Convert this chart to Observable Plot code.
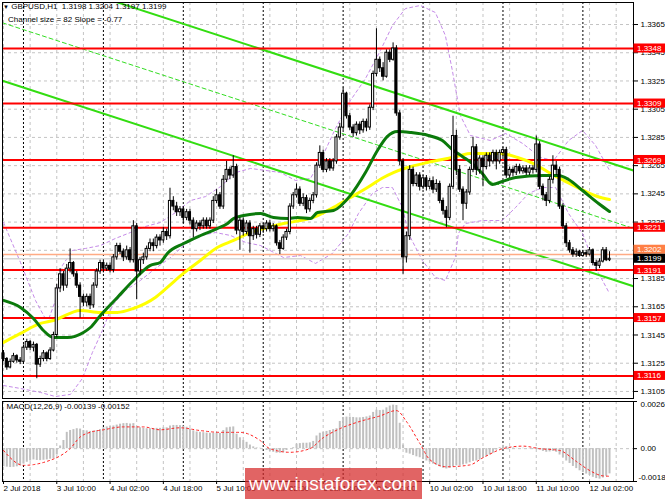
<!DOCTYPE html>
<html>
<head>
<meta charset="utf-8">
<script src="https://cdn.jsdelivr.net/npm/d3@7"></script>
<script src="https://cdn.jsdelivr.net/npm/@observablehq/plot@0.6"></script>
<style>
  body { margin: 0; background: #fff; }
  #chart { position: relative; width: 665px; height: 499px; overflow: hidden; font-family: "Liberation Sans", Arial, sans-serif; }
  #main, #macd { position: absolute; left: 0; }
  #main { top: 0; }
  #macd { top: 400px; }
  .hdr { position: absolute; font-size: 8px; line-height: 10px; color: #000; white-space: pre; }
  #wm { position: absolute; left: 245px; top: 468px; width: 177px; height: 31px; background: rgba(214,40,40,0.72);
        color: #fff; font-size: 19px; line-height: 31px; text-align: center; }
</style>
</head>
<body>
<div id="chart">
  <div id="main"></div>
  <div id="macd"></div>
  <div class="hdr" style="left:3px;top:2px"><span style="font-size:6px">▼</span> GBPUSD,H1  1.3198 1.3204 1.3197 1.3199</div>
  <div class="hdr" style="left:8px;top:15px">Channel size = 82 Slope = -0.77</div>
  <div id="wm">www.instaforex.com</div>
</div>
<script>
// prices are kept in pips above 1.3000 (128 -> 1.3128)
const BASE = 1.3

// H1 candles, 2 Jul 18:00 .. 12 Jul 08:00 (bar 0 .. 182)
const firstOpen = 132
const closes = [
  128,122,126,130,127,126,136,140,136,138,
  124,128,132,128,134,145,178,188,180,192,
  196,188,180,172,168,172,166,180,190,196,
  192,194,191,200,208,204,200,205,198,222,
  190,198,200,206,210,208,214,212,218,215,
  240,236,232,234,228,232,226,220,224,222,
  226,222,226,240,244,236,255,262,258,264,
  219,226,218,224,215,220,216,222,220,224,
  220,222,210,206,214,218,236,244,248,238,
  242,234,240,244,265,274,262,268,263,268,
  285,292,316,300,292,288,294,290,296,292,
  306,330,340,334,328,345,340,348,302,268,
  200,215,262,252,258,250,256,250,254,248,
  252,240,233,228,250,286,262,248,238,246,
  262,278,262,270,264,272,268,274,268,274,
  276,258,262,260,264,261,263,260,263,262,
  280,250,244,240,255,265,262,236,222,210,
  205,202,204,201,203,202,205,196,194,197,
  205,198,199
]
const highs = [
  134,129,128,132,131,129,138,142,141,140,
  139,130,134,133,136,147,181,192,190,195,
  206,197,190,182,174,174,174,182,192,198,
  198,196,196,202,210,210,206,208,207,226,
  224,200,203,208,213,213,216,216,221,220,
  249,243,239,236,236,234,234,228,226,226,
  228,228,228,243,248,246,258,268,264,272,
  266,228,228,226,226,222,222,224,224,226,
  226,224,223,212,216,220,238,246,252,250,
  245,244,242,246,267,279,276,270,270,270,
  287,295,320,317,302,294,296,296,298,298,
  308,332,362,342,338,347,347,352,350,304,
  270,218,265,264,260,260,258,258,256,257,
  255,254,242,236,252,300,290,265,250,248,
  264,285,280,272,272,274,274,276,276,276,
  278,278,264,264,266,266,265,265,265,265,
  286,282,252,246,257,272,268,264,238,224,
  212,207,206,205,205,205,207,206,198,199,
  207,207,204
]
const lows = [
  126,120,121,125,125,124,125,134,134,133,
  114,122,126,126,127,133,143,175,176,178,
  189,186,178,157,165,165,163,164,178,188,
  189,190,189,189,198,202,197,198,196,196,
  170,187,195,198,204,204,206,208,210,212,
  213,233,229,229,224,226,223,214,218,219,
  220,220,220,224,238,234,234,253,255,256,
  216,205,215,216,203,212,213,214,217,218,
  218,218,208,202,205,212,216,234,242,236,
  236,231,232,238,242,263,260,260,261,261,
  266,283,290,298,290,285,286,287,288,289,
  290,304,328,331,325,327,338,339,300,265,
  188,196,212,250,250,247,248,247,248,245,
  246,238,230,221,226,248,258,246,226,234,
  244,260,258,259,250,262,264,266,262,266,
  270,256,256,257,258,259,259,258,258,259,
  260,248,240,236,238,252,258,234,220,207,
  203,200,200,200,200,200,201,194,190,192,
  196,197,197
]

// moving averages [bar, pips]
const greenMa = [[0,169.5],[5.1,164.5],[9,156.7],[12,148.2],[15,143.2],[19.2,143.2],[24,146.8],[26.1,150.3],
  [29.1,158.8],[34.2,171.6],[39,183.6],[44.1,194.3],[47.1,196.4],[49.2,202.8],[54.1,209.8],[59.2,215.5],
  [64.3,220.5],[67.3,224],[69.1,227.6],[72.1,229.7],[77.2,231.1],[81.1,228.3],[85.3,227.6],[88.3,228.3],
  [92.2,227.6],[94.3,231.8],[99.1,233.2],[104.2,243.9],[108.7,260.1],[112.3,275.7],[115.3,285.7],
  [118.3,289.2],[122.2,288.5],[127.6,286.4],[131.8,282.8],[134.8,276.4],[137.8,271.5],[140.8,266.5],
  [143.8,259.4],[146.8,251.6],[149.8,253.8],[153.8,256.6],[161.9,258],[166.7,258],[169.7,255.2],
  [173.9,247.4],[178.7,238.2],[182,232.5]]
const yellowMa = [[0,139.7],[5.1,146.1],[11.1,153.2],[15,155.3],[23.1,162.4],[29.1,161],[34.2,161],
  [39,163.8],[45.6,171.6],[49.2,178.7],[54,188.6],[59.1,197.8],[64.2,207],[69.1,212],[74.2,217.6],
  [79.3,221.2],[84.1,224],[89.2,226.1],[92.2,227.6],[99.1,235.4],[104.2,242.4],[109.3,249.5],
  [114.1,256.6],[117.1,260.1],[121.3,263.7],[127.3,267.2],[133.3,270.1],[137.2,272.2],[140.2,273.6],
  [149.2,273.6],[154.4,270.8],[159.2,266.5],[164.3,259.4],[169.4,253.1],[174.2,247.4],[178.4,243.1],[182,241]]

// bands [bar, pips]
const bandUpper = [[0,224.7],[5.1,196.4],[9.6,169.5],[13.2,153.9],[15.6,169.5],[17.7,194.3],[20.7,204.9],
  [24.6,206.3],[29.1,208.4],[33.6,213.4],[38.1,217.6],[42.6,221.9],[47.1,224.7],[51.7,231.8],[56.2,240.3],
  [60.7,243.1],[65.2,250.2],[69.7,260.1],[74.2,263],[78.7,261.6],[83.2,260.1],[87.7,254.5],[92.2,255.9],
  [95.2,268.6],[99.7,291.3],[104.2,311.2],[108.7,326.7],[113.2,346.6],[116.8,364.3],[120.7,376.3],
  [125.2,378.5],[129.7,373.5],[132.7,357.2],[134.8,332.4],[137.2,300.5],[140.2,286.4],[146.2,282.8],
  [150.8,287.8],[155.9,280.7],[161.3,270.8],[165.2,268.6],[169.7,282.8],[173.9,289.9],[177.8,279.3],[182,261.6]]
const bandLower = [[0,109.2],[5.1,107.1],[11.1,104.3],[15.6,101.4],[20.1,102.9],[23.7,114.2],[26.7,132.6],
  [29.7,148.2],[32.7,165.9],[36.6,176.6],[41.1,183.6],[45.6,192.1],[50.2,199.9],[54.7,209.8],[59.2,215.5],
  [63.7,217.6],[68.2,215.5],[72.7,210.6],[77.2,208.4],[84.1,199.9],[89.2,201.3],[93.7,195.7],[98.8,202.8],
  [103.6,216.9],[106.6,231.1],[110.8,245.3],[113.8,249.5],[116.8,249.5],[119.8,235.4],[121.6,216.9],
  [125.8,197.8],[129.7,185.8],[132.7,183.6],[135.7,199.9],[136.6,216.9],[138.7,224],[143.8,226.1],
  [149.8,226.1],[153.8,235.4],[157.7,245.3],[161.9,249.5],[165.8,249.5],[169.7,231.1],[173.9,216.9],
  [177.8,192.8],[182,174.4]]

// regression channel (size 82, slope -0.77)
const channelBars = [-0.3, 189.2]
const channelUpper = [1.34072, 1.32615]
const channelMiddle = [1.33662, 1.32205]
const channelLower = [1.33252, 1.31795]

const levels = [1.3348, 1.3309, 1.3269, 1.3221, 1.3191, 1.3157, 1.3116]
const bid = 1.3199
const ask = 1.3202
const priceTicks = [1.3365, 1.3345, 1.3325, 1.3305, 1.3285, 1.3265, 1.3245, 1.3225, 1.3205, 1.3185, 1.3165, 1.3145, 1.3125, 1.3105]

// MACD(12,26,9): histogram per bar and signal line, in 0.00001
const macdHist = [
  -100,-102,-104,-103,-100,-95,-85,-75,-68,-62,
  -65,-66,-64,-62,-58,-55,-35,15,45,90,
  100,105,110,108,100,98,95,97,100,105,
  115,120,122,125,130,135,138,139,136,138,
  120,115,112,110,110,110,112,112,115,115,
  125,128,128,127,124,118,108,98,92,90,
  88,86,85,85,86,84,100,115,118,120,
  80,60,45,35,20,10,4,2,0,-10,
  -15,-20,-25,-25,-22,-10,0,5,25,28,
  30,30,32,40,70,85,90,95,100,105,
  110,150,172,174,174,172,170,170,172,175,
  180,200,212,210,212,225,235,240,238,140,
  20,-25,-30,-38,-45,-50,-60,-68,-75,-85,
  -92,-100,-108,-112,-108,-100,-95,-95,-90,-85,
  -78,-70,-68,-62,-50,-42,-35,-25,-8,5,
  18,12,6,3,2,0,2,0,-2,-3,
  5,-8,-15,-20,-18,-15,-20,-35,-50,-68,
  -82,-98,-110,-122,-132,-140,-148,-158,-165,-168,
  -162,-152,-139
]
const macdSignal = [[0,-10],[6,-92],[9,-88],[14,-64],[17,-40],[20,0],[23,64],[26,90],[30,104],[36,120],
  [42,120],[47,104],[53,115],[59,100],[65,90],[71,90],[77,46],[80,0],[86,-20],[92,0],[96,60],[101,110],
  [107,150],[113,180],[118,210],[121,150],[125,30],[128,-60],[133,-100],[140,-90],[144,-50],[150,0],
  [156,14],[161,0],[167,-10],[172,-70],[176,-120],[180,-150],[182,-152]]
const macdTicks = [0.0026, 0, -0.00181]
const macdTickText = ["0.0026", "0.00", "-0.00181"]

const timeLabels = ["2 Jul 2018", "3 Jul 10:00", "4 Jul 02:00", "4 Jul 18:00", "5 Jul 10:00", "6 Jul 02:00",
  "6 Jul 18:00", "9 Jul 10:00", "10 Jul 02:00", "10 Jul 18:00", "11 Jul 10:00", "12 Jul 02:00"]
const labelBars = [0, 16, 32, 48, 64, 80, 96, 112, 128, 144, 160, 176]
const gridBars = [0, 8, 16, 24, 32, 40, 48, 56, 64, 72, 80, 88, 96, 104, 112, 120, 128, 136, 144, 152, 160, 168, 176, 184]
const daySeps = [6, 30, 54, 78, 102, 126, 150, 174]

const px = p => BASE + p / 10000
const bars = closes.map((c, i) => ({
  i,
  o: px(i ? closes[i - 1] : firstOpen),
  h: px(highs[i]),
  l: px(lows[i]),
  c: px(c)
}))
const pairs = (xs, ys) => xs.map((x, k) => ({x, y: ys[k]}))
const font = {fontFamily: "Liberation Sans, Arial, sans-serif", fontSize: "8px", background: "white", overflow: "visible"}
const grey = {stroke: "#c4c4c4", strokeDasharray: "3,3"}
const sep = {stroke: "#000", strokeDasharray: "2,2"}
const band = {x: d => d[0], y: d => px(d[1]), stroke: "#c58be8", strokeWidth: 1, strokeDasharray: "3,3", clip: true}

const main = Plot.plot({
  width: 665, height: 400,
  marginLeft: 2, marginRight: 32, marginTop: 2, marginBottom: 2,
  x: {type: "linear", domain: [-0.3, 189.2], axis: null},
  y: {domain: [1.3100, 1.33806]},
  style: font,
  marks: [
    Plot.ruleY(priceTicks, grey),
    Plot.ruleX(gridBars, grey),
    Plot.ruleX(daySeps, sep),
    Plot.line(bandUpper, band),
    Plot.line(bandLower, band),
    Plot.line(pairs(channelBars, channelMiddle), {x: "x", y: "y", stroke: "#33dd22", strokeWidth: 1, strokeDasharray: "4,3", clip: true}),
    Plot.line(pairs(channelBars, channelUpper), {x: "x", y: "y", stroke: "#33dd11", strokeWidth: 2, clip: true}),
    Plot.line(pairs(channelBars, channelLower), {x: "x", y: "y", stroke: "#33dd11", strokeWidth: 2, clip: true}),
    Plot.ruleY([ask], {stroke: "#ffab85", strokeWidth: 1.5}),
    Plot.ruleY([bid], {stroke: "#d6d6d6", strokeWidth: 1.5}),
    Plot.ruleY(levels, {stroke: "#ff0000", strokeWidth: 2}),
    Plot.line(yellowMa, {x: d => d[0], y: d => px(d[1]), stroke: "#ffff00", strokeWidth: 3, curve: "monotone-x"}),
    Plot.line(greenMa, {x: d => d[0], y: d => px(d[1]), stroke: "#0b7a0b", strokeWidth: 3, curve: "monotone-x"}),
    Plot.ruleX(bars, {x: "i", y1: "l", y2: "h", stroke: "#000"}),
    Plot.rect(bars, {
      x1: d => d.i - 0.32, x2: d => d.i + 0.32, y1: "o", y2: "c",
      fill: d => d.c >= d.o ? "#fff" : "#000", stroke: "#000", strokeWidth: 1
    }),
    Plot.frame({stroke: "#000"}),
    Plot.axisY(priceTicks, {anchor: "right", tickSize: 4, tickPadding: 3, tickFormat: d => d.toFixed(4), label: null}),
    Plot.rect(levels, {x1: 189.35, x2: 199, y1: d => d - 0.00032, y2: d => d + 0.00032, fill: "#ff0000"}),
    Plot.text(levels, {x: 189.35, y: d => d, dx: 3, text: d => d.toFixed(4), fill: "#fff", textAnchor: "start"}),
    Plot.rect([ask], {x1: 189.35, x2: 199, y1: d => d + 0.00002, y2: d => d + 0.00066, fill: "#ff7f45"}),
    Plot.text([ask], {x: 189.35, y: d => d + 0.00034, dx: 3, text: d => d.toFixed(4), fill: "#fff", textAnchor: "start"}),
    Plot.rect([bid], {x1: 189.35, x2: 199, y1: d => d - 0.00032, y2: d => d + 0.00032, fill: "#000"}),
    Plot.text([bid], {x: 189.35, y: d => d, dx: 3, text: d => d.toFixed(4), fill: "#fff", textAnchor: "start"})
  ]
})
document.getElementById("main").append(main)

const labelMap = new Map(labelBars.map((b, k) => [b, timeLabels[k]]))
const macdLabels = macdTicks.map((v, k) => ({v, t: macdTickText[k]}))
const hist = macdHist.map((v, i) => ({i, v: v / 100000}))

const macd = Plot.plot({
  width: 665, height: 99,
  marginLeft: 2, marginRight: 32, marginTop: 1, marginBottom: 18,
  x: {type: "linear", domain: [-0.3, 189.2]},
  y: {domain: [-0.00181, 0.0026], axis: null},
  style: font,
  marks: [
    Plot.ruleX(gridBars, grey),
    Plot.ruleX(daySeps, sep),
    Plot.ruleY([0.0026, 0], grey),
    Plot.ruleX(hist, {x: "i", y1: 0, y2: "v", stroke: "#c0c0c0", strokeWidth: 2}),
    Plot.line(macdSignal, {x: d => d[0], y: d => d[1] / 100000, stroke: "#ff2020", strokeWidth: 1, strokeDasharray: "2,3", curve: "monotone-x"}),
    Plot.frame({stroke: "#000"}),
    Plot.axisX(labelBars, {anchor: "bottom", tickSize: 3, tickPadding: 1, tickFormat: d => labelMap.get(d), textAnchor: "start", label: null}),
    Plot.ruleY(macdTicks, {x1: 189.2, x2: 190.4, stroke: "#000"}),
    Plot.text(macdLabels.slice(0, 1), {x: 189.2, y: "v", text: "t", dx: 7, dy: 3, textAnchor: "start"}),
    Plot.text(macdLabels.slice(1, 2), {x: 189.2, y: "v", text: "t", dx: 7, textAnchor: "start"}),
    Plot.text(macdLabels.slice(2), {x: 189.2, y: "v", text: "t", dx: 5, dy: -4, textAnchor: "start"}),
    Plot.text(["MACD(12,26,9) -0.00139 -0.00152"], {frameAnchor: "top-left", dx: 4, dy: 2})
  ]
})
document.getElementById("macd").append(macd)
</script>
</body>
</html>
